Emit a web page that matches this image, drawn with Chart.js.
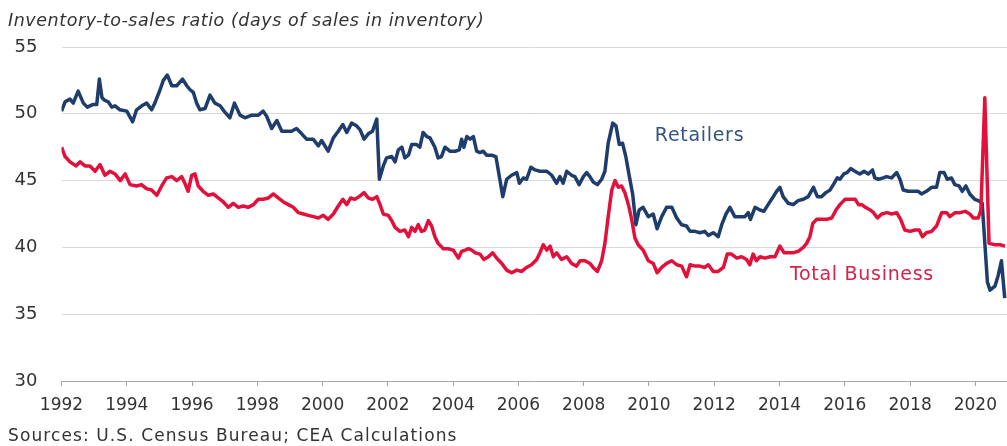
<!DOCTYPE html>
<html>
<head>
<meta charset="utf-8">
<title>Inventory-to-sales ratio</title>
<script src="https://cdn.jsdelivr.net/npm/chart.js@4.4.0/dist/chart.umd.min.js"></script>
<style>
    html, body { margin: 0; padding: 0; background: #ffffff; }
    #chartWrap { width: 1007px; height: 446px; }
</style>
</head>
<body>
<div id="chartWrap"><canvas id="ratioChart" width="1007" height="446"></canvas></div>
<script>
// Days of sales in inventory, monthly readings keyed by decimal year

// Retailers
const retailDates = [
    1992.00, 1992.11, 1992.26, 1992.36, 1992.51, 1992.67, 1992.79, 1992.97, 1993.08, 1993.16,
    1993.24, 1993.33, 1993.43, 1993.54, 1993.64, 1993.79, 1994.00, 1994.18, 1994.30, 1994.46,
    1994.61, 1994.76, 1994.86, 1995.02, 1995.12, 1995.24, 1995.38, 1995.53, 1995.71, 1995.84,
    1995.94, 1996.04, 1996.14, 1996.24, 1996.40, 1996.55, 1996.70, 1996.86, 1996.98, 1997.16,
    1997.30, 1997.47, 1997.62, 1997.83, 1998.03, 1998.18, 1998.29, 1998.44, 1998.60, 1998.75,
    1998.90, 1999.05, 1999.20, 1999.36, 1999.51, 1999.71, 1999.87, 1999.97, 2000.17, 2000.33,
    2000.48, 2000.62, 2000.74, 2000.89, 2001.04, 2001.15, 2001.27, 2001.40, 2001.53, 2001.66,
    2001.74, 2001.86, 2001.96, 2002.12, 2002.22, 2002.32, 2002.43, 2002.52, 2002.63, 2002.73,
    2002.88, 2002.98, 2003.08, 2003.19, 2003.29, 2003.44, 2003.54, 2003.64, 2003.75, 2003.90,
    2004.06, 2004.19, 2004.26, 2004.33, 2004.42, 2004.52, 2004.62, 2004.72, 2004.82, 2004.92,
    2005.03, 2005.18, 2005.31, 2005.43, 2005.52, 2005.64, 2005.79, 2005.95, 2006.03, 2006.15,
    2006.25, 2006.38, 2006.51, 2006.66, 2006.87, 2007.02, 2007.17, 2007.27, 2007.37, 2007.48,
    2007.63, 2007.73, 2007.86, 2007.99, 2008.09, 2008.19, 2008.29, 2008.42, 2008.55, 2008.65,
    2008.75, 2008.89, 2008.99, 2009.09, 2009.19, 2009.29, 2009.40, 2009.50, 2009.60, 2009.70,
    2009.82, 2009.98, 2010.13, 2010.25, 2010.39, 2010.54, 2010.70, 2010.85, 2011.00, 2011.15,
    2011.26, 2011.41, 2011.56, 2011.71, 2011.82, 2011.97, 2012.12, 2012.23, 2012.36, 2012.48,
    2012.63, 2012.79, 2012.94, 2013.04, 2013.11, 2013.25, 2013.40, 2013.52, 2013.65, 2013.81,
    2013.91, 2014.01, 2014.11, 2014.27, 2014.42, 2014.57, 2014.73, 2014.88, 2015.04, 2015.16,
    2015.29, 2015.42, 2015.55, 2015.65, 2015.77, 2015.85, 2015.97, 2016.07, 2016.18, 2016.31,
    2016.46, 2016.59, 2016.72, 2016.85, 2016.92, 2017.03, 2017.18, 2017.28, 2017.43, 2017.59,
    2017.69, 2017.79, 2017.94, 2018.10, 2018.25, 2018.35, 2018.50, 2018.66, 2018.81, 2018.91,
    2019.04, 2019.14, 2019.27, 2019.37, 2019.50, 2019.60, 2019.71, 2019.83, 2019.98, 2020.09,
    2020.21, 2020.37, 2020.45, 2020.60, 2020.70, 2020.80, 2020.90
];
const retailValues = [
    50.2, 50.9, 51.1, 50.8, 51.7, 50.8, 50.5, 50.7, 50.7, 52.6,
    51.2, 51.0, 50.9, 50.5, 50.6, 50.3, 50.2, 49.4, 50.3, 50.6,
    50.8, 50.3, 50.8, 51.8, 52.5, 52.9, 52.1, 52.1, 52.6, 52.1,
    51.8, 51.6, 50.8, 50.3, 50.4, 51.4, 50.8, 50.6, 50.2, 49.7,
    50.8, 49.9, 49.7, 49.9, 49.9, 50.2, 49.8, 48.9, 49.5, 48.7,
    48.7, 48.7, 48.9, 48.5, 48.1, 48.1, 47.6, 48.0, 47.2, 48.2,
    48.7, 49.2, 48.6, 49.3, 49.1, 48.8, 48.1, 48.5, 48.7, 49.6,
    45.1, 46.1, 46.7, 46.8, 46.4, 47.3, 47.5, 46.7, 46.9, 47.7,
    47.7, 47.5, 48.6, 48.3, 48.2, 47.5, 46.7, 46.8, 47.5, 47.2,
    47.2, 47.3, 48.1, 47.5, 48.3, 48.1, 48.3, 47.2, 47.1, 47.2,
    46.9, 46.9, 46.8, 45.1, 43.8, 45.1, 45.4, 45.6, 44.8, 45.2,
    45.1, 46.0, 45.8, 45.7, 45.7, 45.4, 44.8, 45.3, 44.8, 45.7,
    45.4, 45.3, 44.7, 45.3, 45.6, 45.3, 44.9, 44.7, 45.1, 45.7,
    47.8, 49.3, 49.1, 47.7, 47.8, 46.8, 45.3, 44.0, 41.7, 42.8,
    43.0, 42.3, 42.5, 41.4, 42.3, 43.0, 43.0, 42.2, 41.7, 41.6,
    41.2, 41.2, 41.1, 41.2, 40.9, 41.1, 40.8, 41.7, 42.5, 43.0,
    42.3, 42.3, 42.3, 42.6, 42.1, 43.0, 42.8, 42.7, 43.2, 43.8,
    44.2, 44.5, 43.8, 43.3, 43.2, 43.5, 43.6, 43.8, 44.5, 43.8,
    43.8, 44.1, 44.3, 44.7, 45.2, 45.1, 45.5, 45.6, 45.9, 45.7,
    45.5, 45.7, 45.5, 45.8, 45.2, 45.1, 45.2, 45.3, 45.2, 45.6,
    45.1, 44.3, 44.2, 44.2, 44.2, 44.0, 44.2, 44.5, 44.5, 45.6,
    45.6, 45.1, 45.2, 44.7, 44.6, 44.2, 44.6, 44.0, 43.6, 43.5,
    43.3, 37.4, 36.8, 37.1, 37.9, 39.0, 36.2
];

// Total business
const businessDates = [
    1992.00, 1992.11, 1992.26, 1992.44, 1992.57, 1992.72, 1992.87, 1993.03, 1993.18, 1993.33,
    1993.49, 1993.64, 1993.80, 1993.95, 1994.10, 1994.30, 1994.45, 1994.60, 1994.76, 1994.92,
    1995.07, 1995.22, 1995.38, 1995.53, 1995.68, 1995.78, 1995.88, 1995.99, 1996.09, 1996.19,
    1996.34, 1996.50, 1996.65, 1996.80, 1996.96, 1997.11, 1997.26, 1997.42, 1997.57, 1997.72,
    1997.88, 1998.03, 1998.18, 1998.34, 1998.49, 1998.64, 1998.80, 1998.95, 1999.10, 1999.26,
    1999.41, 1999.56, 1999.72, 1999.87, 2000.02, 2000.17, 2000.33, 2000.48, 2000.62, 2000.74,
    2000.86, 2000.99, 2001.12, 2001.27, 2001.40, 2001.53, 2001.66, 2001.76, 2001.86, 2002.01,
    2002.12, 2002.22, 2002.37, 2002.52, 2002.63, 2002.73, 2002.83, 2002.93, 2003.03, 2003.13,
    2003.24, 2003.34, 2003.44, 2003.54, 2003.70, 2003.85, 2004.00, 2004.16, 2004.26, 2004.37,
    2004.47, 2004.57, 2004.67, 2004.82, 2004.94, 2005.08, 2005.21, 2005.33, 2005.49, 2005.64,
    2005.79, 2005.95, 2006.10, 2006.25, 2006.40, 2006.56, 2006.66, 2006.76, 2006.87, 2006.97,
    2007.07, 2007.17, 2007.32, 2007.48, 2007.63, 2007.78, 2007.89, 2008.04, 2008.19, 2008.29,
    2008.42, 2008.55, 2008.65, 2008.75, 2008.86, 2008.96, 2009.06, 2009.16, 2009.26, 2009.37,
    2009.47, 2009.57, 2009.67, 2009.82, 2009.98, 2010.13, 2010.25, 2010.39, 2010.54, 2010.70,
    2010.85, 2011.00, 2011.15, 2011.26, 2011.41, 2011.56, 2011.71, 2011.82, 2011.97, 2012.12,
    2012.28, 2012.40, 2012.53, 2012.69, 2012.84, 2012.99, 2013.09, 2013.19, 2013.29, 2013.40,
    2013.55, 2013.71, 2013.86, 2014.01, 2014.14, 2014.27, 2014.42, 2014.57, 2014.73, 2014.83,
    2014.93, 2015.02, 2015.14, 2015.29, 2015.44, 2015.60, 2015.73, 2015.85, 2016.01, 2016.17,
    2016.32, 2016.42, 2016.52, 2016.63, 2016.78, 2016.88, 2017.00, 2017.13, 2017.29, 2017.44,
    2017.59, 2017.71, 2017.84, 2018.00, 2018.15, 2018.28, 2018.38, 2018.50, 2018.66, 2018.81,
    2018.97, 2019.12, 2019.22, 2019.38, 2019.53, 2019.69, 2019.83, 2019.94, 2020.09, 2020.17,
    2020.29, 2020.42, 2020.60, 2020.76, 2020.91
];
const businessValues = [
    47.5, 46.8, 46.4, 46.1, 46.4, 46.1, 46.1, 45.7, 46.2, 45.4,
    45.7, 45.5, 45.0, 45.5, 44.7, 44.6, 44.7, 44.4, 44.3, 43.9,
    44.6, 45.2, 45.3, 45.0, 45.3, 44.8, 44.2, 45.4, 45.5, 44.6,
    44.2, 43.9, 44.0, 43.7, 43.4, 43.0, 43.3, 43.0, 43.1, 43.0,
    43.2, 43.6, 43.6, 43.7, 44.0, 43.7, 43.4, 43.2, 43.0, 42.6,
    42.5, 42.4, 42.3, 42.2, 42.4, 42.1, 42.5, 43.1, 43.6, 43.2,
    43.7, 43.6, 43.8, 44.1, 43.7, 43.6, 43.8, 43.2, 42.5, 42.4,
    42.0, 41.5, 41.2, 41.3, 40.8, 41.5, 41.2, 41.7, 41.2, 41.3,
    42.0, 41.6, 40.8, 40.3, 39.9, 39.9, 39.8, 39.2, 39.7, 39.8,
    39.9, 39.8, 39.6, 39.5, 39.1, 39.3, 39.6, 39.2, 38.8, 38.3,
    38.1, 38.3, 38.2, 38.5, 38.7, 39.1, 39.6, 40.2, 39.8, 40.1,
    39.3, 39.6, 39.1, 39.3, 38.8, 38.6, 39.0, 39.0, 38.8, 38.5,
    38.2, 39.0, 40.3, 42.3, 44.3, 45.0, 44.5, 44.6, 44.1, 43.2,
    42.1, 40.7, 40.2, 39.8, 39.0, 38.8, 38.1, 38.5, 38.8, 39.0,
    38.7, 38.6, 37.8, 38.7, 38.6, 38.6, 38.5, 38.7, 38.2, 38.2,
    38.5, 39.5, 39.5, 39.2, 39.3, 39.1, 38.7, 39.5, 39.0, 39.3,
    39.2, 39.3, 39.3, 40.1, 39.6, 39.6, 39.6, 39.7, 40.0, 40.3,
    40.8, 41.8, 42.1, 42.1, 42.1, 42.2, 42.8, 43.2, 43.6, 43.6,
    43.6, 43.2, 43.2, 43.0, 42.8, 42.6, 42.2, 42.5, 42.6, 42.5,
    42.6, 42.1, 41.3, 41.2, 41.3, 41.3, 40.8, 41.1, 41.2, 41.6,
    42.6, 42.6, 42.3, 42.6, 42.6, 42.7, 42.5, 42.2, 42.2, 42.8,
    51.2, 40.3, 40.2, 40.2, 40.1
];

// Axis ticks
const yearTicks = [1992, 1994, 1996, 1998, 2000, 2002, 2004, 2006, 2008, 2010, 2012, 2014, 2016, 2018, 2020];
const valueTicks = [30, 35, 40, 45, 50, 55];

const titleText = 'Inventory-to-sales ratio (days of sales in inventory)';
const sourceText = 'Sources: U.S. Census Bureau; CEA Calculations';

const NAVY = '#1f3d6c';
const RED = '#e2103a';
const TEXT = '#333333';
const FONT = '"DejaVu Sans", sans-serif';

function toPoints(dates, values) {
    return dates.map((d, i) => ({ x: d, y: values[i] }));
}

// Title above the plot, source note below, series names inside the plot
const chartText = {
    id: 'chartText',
    afterDatasetsDraw(chart) {
        const { ctx, scales: { x, y } } = chart;
        ctx.save();
        ctx.textBaseline = 'middle';
        ctx.textAlign = 'left';
        ctx.letterSpacing = '0.7px';
        ctx.font = '19px ' + FONT;
        ctx.fillStyle = '#34537f';
        ctx.fillText('Retailers', x.getPixelForValue(2010.18), y.getPixelForValue(48.36));
        ctx.fillStyle = '#d4234a';
        ctx.fillText('Total Business', x.getPixelForValue(2014.32), y.getPixelForValue(37.94));
        ctx.restore();
    },
    afterDraw(chart) {
        const { ctx } = chart;
        ctx.save();
        ctx.textAlign = 'left';
        ctx.textBaseline = 'alphabetic';
        ctx.fillStyle = TEXT;
        ctx.letterSpacing = '0.55px';
        ctx.font = 'italic 17.5px ' + FONT;
        ctx.fillText(titleText, 8, 26);
        ctx.letterSpacing = '1.1px';
        ctx.font = '17px ' + FONT;
        ctx.fillText(sourceText, 8, 441);
        ctx.restore();
    }
};

const ctx = document.getElementById('ratioChart');
new Chart(ctx, {
    type: 'line',
    data: {
        datasets: [{
            label: 'Total Business',
            data: toPoints(businessDates, businessValues),
            borderColor: RED,
            borderWidth: 3.5,
            borderJoinStyle: 'round',
            pointRadius: 0,
            tension: 0,
            order: 0
        }, {
            label: 'Retailers',
            data: toPoints(retailDates, retailValues),
            borderColor: NAVY,
            borderWidth: 3.5,
            borderJoinStyle: 'round',
            pointRadius: 0,
            tension: 0,
            order: 1
        }]
    },
    options: {
        responsive: false,
        animation: false,
        devicePixelRatio: 1,
        layout: {
            padding: { top: 47, left: 8, right: 0, bottom: 28 }
        },
        plugins: {
            legend: { display: false },
            tooltip: { enabled: false }
        },
        scales: {
            x: {
                type: 'linear',
                min: 1992,
                max: 2020.97,
                afterBuildTicks: (scale) => {
                    scale.ticks = yearTicks.map(v => ({ value: v }));
                },
                afterFit: (scale) => { scale.height = 37; },
                grid: {
                    drawOnChartArea: false,
                    drawTicks: true,
                    tickLength: 5,
                    color: '#a6a6a6'
                },
                border: { display: true, color: '#a6a6a6', width: 1 },
                ticks: {
                    autoSkip: false,
                    maxRotation: 0,
                    padding: 9,
                    color: TEXT,
                    font: { family: FONT, size: 17 },
                    callback: (v) => String(v)
                }
            },
            y: {
                min: 30,
                max: 55,
                afterBuildTicks: (scale) => {
                    scale.ticks = valueTicks.map(v => ({ value: v }));
                },
                afterFit: (scale) => { scale.width = 53.5; },
                grid: {
                    drawTicks: false,
                    color: (c) => (c.tick && c.tick.value === 30) ? 'rgba(0,0,0,0)' : '#d9d9d9'
                },
                border: { display: false },
                ticks: {
                    padding: 24,
                    color: TEXT,
                    font: { family: FONT, size: 18 }
                }
            }
        }
    },
    plugins: [chartText]
});
</script>
</body>
</html>
